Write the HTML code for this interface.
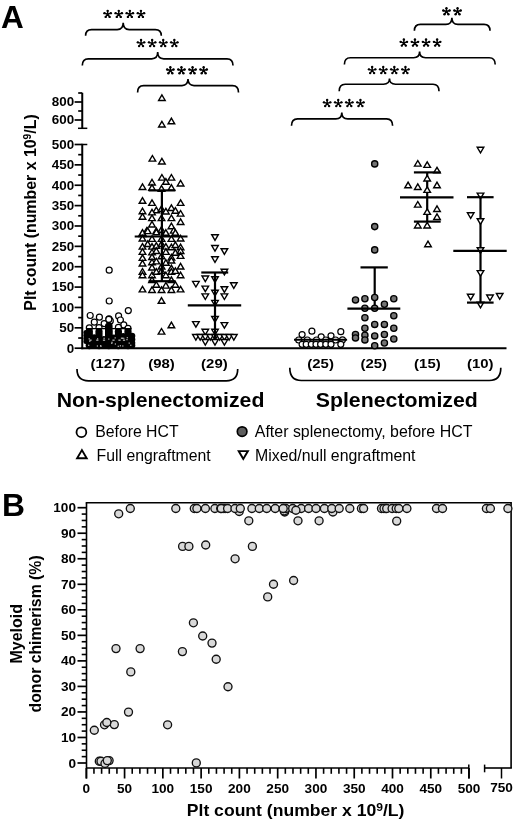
<!DOCTYPE html><html><head><meta charset="utf-8"><style>html,body{margin:0;padding:0;background:#fff;}svg{display:block;filter:grayscale(1);}text{font-family:"Liberation Sans", sans-serif;}</style></head><body>
<svg width="520" height="825" viewBox="0 0 520 825">
<rect width="520" height="825" fill="#fff"/>
<text x="1.0" y="27.7" font-size="31.5" font-weight="bold" text-anchor="start" >A</text>
<text x="2.0" y="515.5" font-size="31.8" font-weight="bold" text-anchor="start" >B</text>
<path d="M85.6 35.7Q85.6 29.6 91.6 29.6L117.2 29.6Q123.2 29.6 123.2 22.8Q123.2 29.6 129.2 29.6L155.3 29.6Q161.3 29.6 161.3 35.7" stroke="#000" stroke-width="1.65" fill="none"/>
<path d="M107.65 14.20L107.65 10.85M107.65 14.20L104.46 13.16M107.65 14.20L105.68 16.91M107.65 14.20L109.62 16.91M107.65 14.20L110.84 13.16" stroke="#000" stroke-width="1.45" stroke-linecap="round" fill="none"/><circle cx="107.65" cy="10.85" r="1.2"/><circle cx="104.46" cy="13.16" r="1.2"/><circle cx="105.68" cy="16.91" r="1.2"/><circle cx="109.62" cy="16.91" r="1.2"/><circle cx="110.84" cy="13.16" r="1.2"/><path d="M118.75 14.20L118.75 10.85M118.75 14.20L115.56 13.16M118.75 14.20L116.78 16.91M118.75 14.20L120.72 16.91M118.75 14.20L121.94 13.16" stroke="#000" stroke-width="1.45" stroke-linecap="round" fill="none"/><circle cx="118.75" cy="10.85" r="1.2"/><circle cx="115.56" cy="13.16" r="1.2"/><circle cx="116.78" cy="16.91" r="1.2"/><circle cx="120.72" cy="16.91" r="1.2"/><circle cx="121.94" cy="13.16" r="1.2"/><path d="M129.85 14.20L129.85 10.85M129.85 14.20L126.66 13.16M129.85 14.20L127.88 16.91M129.85 14.20L131.82 16.91M129.85 14.20L133.04 13.16" stroke="#000" stroke-width="1.45" stroke-linecap="round" fill="none"/><circle cx="129.85" cy="10.85" r="1.2"/><circle cx="126.66" cy="13.16" r="1.2"/><circle cx="127.88" cy="16.91" r="1.2"/><circle cx="131.82" cy="16.91" r="1.2"/><circle cx="133.04" cy="13.16" r="1.2"/><path d="M140.95 14.20L140.95 10.85M140.95 14.20L137.76 13.16M140.95 14.20L138.98 16.91M140.95 14.20L142.92 16.91M140.95 14.20L144.14 13.16" stroke="#000" stroke-width="1.45" stroke-linecap="round" fill="none"/><circle cx="140.95" cy="10.85" r="1.2"/><circle cx="137.76" cy="13.16" r="1.2"/><circle cx="138.98" cy="16.91" r="1.2"/><circle cx="142.92" cy="16.91" r="1.2"/><circle cx="144.14" cy="13.16" r="1.2"/>
<path d="M82.3 65.6Q82.3 58.8 88.3 58.8L151.7 58.8Q157.7 58.8 157.7 52.1Q157.7 58.8 163.7 58.8L227.0 58.8Q233.0 58.8 233.0 65.6" stroke="#000" stroke-width="1.65" fill="none"/>
<path d="M141.05 43.40L141.05 40.05M141.05 43.40L137.86 42.36M141.05 43.40L139.08 46.11M141.05 43.40L143.02 46.11M141.05 43.40L144.24 42.36" stroke="#000" stroke-width="1.45" stroke-linecap="round" fill="none"/><circle cx="141.05" cy="40.05" r="1.2"/><circle cx="137.86" cy="42.36" r="1.2"/><circle cx="139.08" cy="46.11" r="1.2"/><circle cx="143.02" cy="46.11" r="1.2"/><circle cx="144.24" cy="42.36" r="1.2"/><path d="M152.15 43.40L152.15 40.05M152.15 43.40L148.96 42.36M152.15 43.40L150.18 46.11M152.15 43.40L154.12 46.11M152.15 43.40L155.34 42.36" stroke="#000" stroke-width="1.45" stroke-linecap="round" fill="none"/><circle cx="152.15" cy="40.05" r="1.2"/><circle cx="148.96" cy="42.36" r="1.2"/><circle cx="150.18" cy="46.11" r="1.2"/><circle cx="154.12" cy="46.11" r="1.2"/><circle cx="155.34" cy="42.36" r="1.2"/><path d="M163.25 43.40L163.25 40.05M163.25 43.40L160.06 42.36M163.25 43.40L161.28 46.11M163.25 43.40L165.22 46.11M163.25 43.40L166.44 42.36" stroke="#000" stroke-width="1.45" stroke-linecap="round" fill="none"/><circle cx="163.25" cy="40.05" r="1.2"/><circle cx="160.06" cy="42.36" r="1.2"/><circle cx="161.28" cy="46.11" r="1.2"/><circle cx="165.22" cy="46.11" r="1.2"/><circle cx="166.44" cy="42.36" r="1.2"/><path d="M174.35 43.40L174.35 40.05M174.35 43.40L171.16 42.36M174.35 43.40L172.38 46.11M174.35 43.40L176.32 46.11M174.35 43.40L177.54 42.36" stroke="#000" stroke-width="1.45" stroke-linecap="round" fill="none"/><circle cx="174.35" cy="40.05" r="1.2"/><circle cx="171.16" cy="42.36" r="1.2"/><circle cx="172.38" cy="46.11" r="1.2"/><circle cx="176.32" cy="46.11" r="1.2"/><circle cx="177.54" cy="42.36" r="1.2"/>
<path d="M137.6 92.4Q137.6 85.6 143.6 85.6L182.0 85.6Q188.0 85.6 188.0 79.1Q188.0 85.6 194.0 85.6L232.5 85.6Q238.5 85.6 238.5 92.4" stroke="#000" stroke-width="1.65" fill="none"/>
<path d="M170.35 70.50L170.35 67.15M170.35 70.50L167.16 69.46M170.35 70.50L168.38 73.21M170.35 70.50L172.32 73.21M170.35 70.50L173.54 69.46" stroke="#000" stroke-width="1.45" stroke-linecap="round" fill="none"/><circle cx="170.35" cy="67.15" r="1.2"/><circle cx="167.16" cy="69.46" r="1.2"/><circle cx="168.38" cy="73.21" r="1.2"/><circle cx="172.32" cy="73.21" r="1.2"/><circle cx="173.54" cy="69.46" r="1.2"/><path d="M181.45 70.50L181.45 67.15M181.45 70.50L178.26 69.46M181.45 70.50L179.48 73.21M181.45 70.50L183.42 73.21M181.45 70.50L184.64 69.46" stroke="#000" stroke-width="1.45" stroke-linecap="round" fill="none"/><circle cx="181.45" cy="67.15" r="1.2"/><circle cx="178.26" cy="69.46" r="1.2"/><circle cx="179.48" cy="73.21" r="1.2"/><circle cx="183.42" cy="73.21" r="1.2"/><circle cx="184.64" cy="69.46" r="1.2"/><path d="M192.55 70.50L192.55 67.15M192.55 70.50L189.36 69.46M192.55 70.50L190.58 73.21M192.55 70.50L194.52 73.21M192.55 70.50L195.74 69.46" stroke="#000" stroke-width="1.45" stroke-linecap="round" fill="none"/><circle cx="192.55" cy="67.15" r="1.2"/><circle cx="189.36" cy="69.46" r="1.2"/><circle cx="190.58" cy="73.21" r="1.2"/><circle cx="194.52" cy="73.21" r="1.2"/><circle cx="195.74" cy="69.46" r="1.2"/><path d="M203.65 70.50L203.65 67.15M203.65 70.50L200.46 69.46M203.65 70.50L201.68 73.21M203.65 70.50L205.62 73.21M203.65 70.50L206.84 69.46" stroke="#000" stroke-width="1.45" stroke-linecap="round" fill="none"/><circle cx="203.65" cy="67.15" r="1.2"/><circle cx="200.46" cy="69.46" r="1.2"/><circle cx="201.68" cy="73.21" r="1.2"/><circle cx="205.62" cy="73.21" r="1.2"/><circle cx="206.84" cy="69.46" r="1.2"/>
<path d="M414.4 30.8Q414.4 24.4 420.4 24.4L445.9 24.4Q451.9 24.4 451.9 17.7Q451.9 24.4 457.9 24.4L484.0 24.4Q490.0 24.4 490.0 30.8" stroke="#000" stroke-width="1.65" fill="none"/>
<path d="M446.45 11.50L446.45 8.15M446.45 11.50L443.26 10.46M446.45 11.50L444.48 14.21M446.45 11.50L448.42 14.21M446.45 11.50L449.64 10.46" stroke="#000" stroke-width="1.45" stroke-linecap="round" fill="none"/><circle cx="446.45" cy="8.15" r="1.2"/><circle cx="443.26" cy="10.46" r="1.2"/><circle cx="444.48" cy="14.21" r="1.2"/><circle cx="448.42" cy="14.21" r="1.2"/><circle cx="449.64" cy="10.46" r="1.2"/><path d="M457.55 11.50L457.55 8.15M457.55 11.50L454.36 10.46M457.55 11.50L455.58 14.21M457.55 11.50L459.52 14.21M457.55 11.50L460.74 10.46" stroke="#000" stroke-width="1.45" stroke-linecap="round" fill="none"/><circle cx="457.55" cy="8.15" r="1.2"/><circle cx="454.36" cy="10.46" r="1.2"/><circle cx="455.58" cy="14.21" r="1.2"/><circle cx="459.52" cy="14.21" r="1.2"/><circle cx="460.74" cy="10.46" r="1.2"/>
<path d="M344.4 64.5Q344.4 57.7 350.4 57.7L413.6 57.7Q419.6 57.7 419.6 51.5Q419.6 57.7 425.6 57.7L489.2 57.7Q495.2 57.7 495.2 64.5" stroke="#000" stroke-width="1.65" fill="none"/>
<path d="M403.85 42.90L403.85 39.55M403.85 42.90L400.66 41.86M403.85 42.90L401.88 45.61M403.85 42.90L405.82 45.61M403.85 42.90L407.04 41.86" stroke="#000" stroke-width="1.45" stroke-linecap="round" fill="none"/><circle cx="403.85" cy="39.55" r="1.2"/><circle cx="400.66" cy="41.86" r="1.2"/><circle cx="401.88" cy="45.61" r="1.2"/><circle cx="405.82" cy="45.61" r="1.2"/><circle cx="407.04" cy="41.86" r="1.2"/><path d="M414.95 42.90L414.95 39.55M414.95 42.90L411.76 41.86M414.95 42.90L412.98 45.61M414.95 42.90L416.92 45.61M414.95 42.90L418.14 41.86" stroke="#000" stroke-width="1.45" stroke-linecap="round" fill="none"/><circle cx="414.95" cy="39.55" r="1.2"/><circle cx="411.76" cy="41.86" r="1.2"/><circle cx="412.98" cy="45.61" r="1.2"/><circle cx="416.92" cy="45.61" r="1.2"/><circle cx="418.14" cy="41.86" r="1.2"/><path d="M426.05 42.90L426.05 39.55M426.05 42.90L422.86 41.86M426.05 42.90L424.08 45.61M426.05 42.90L428.02 45.61M426.05 42.90L429.24 41.86" stroke="#000" stroke-width="1.45" stroke-linecap="round" fill="none"/><circle cx="426.05" cy="39.55" r="1.2"/><circle cx="422.86" cy="41.86" r="1.2"/><circle cx="424.08" cy="45.61" r="1.2"/><circle cx="428.02" cy="45.61" r="1.2"/><circle cx="429.24" cy="41.86" r="1.2"/><path d="M437.15 42.90L437.15 39.55M437.15 42.90L433.96 41.86M437.15 42.90L435.18 45.61M437.15 42.90L439.12 45.61M437.15 42.90L440.34 41.86" stroke="#000" stroke-width="1.45" stroke-linecap="round" fill="none"/><circle cx="437.15" cy="39.55" r="1.2"/><circle cx="433.96" cy="41.86" r="1.2"/><circle cx="435.18" cy="45.61" r="1.2"/><circle cx="439.12" cy="45.61" r="1.2"/><circle cx="440.34" cy="41.86" r="1.2"/>
<path d="M339.2 91.2Q339.2 84.2 345.2 84.2L383.5 84.2Q389.5 84.2 389.5 78.5Q389.5 84.2 395.5 84.2L433.0 84.2Q439.0 84.2 439.0 91.2" stroke="#000" stroke-width="1.65" fill="none"/>
<path d="M372.15 70.40L372.15 67.05M372.15 70.40L368.96 69.36M372.15 70.40L370.18 73.11M372.15 70.40L374.12 73.11M372.15 70.40L375.34 69.36" stroke="#000" stroke-width="1.45" stroke-linecap="round" fill="none"/><circle cx="372.15" cy="67.05" r="1.2"/><circle cx="368.96" cy="69.36" r="1.2"/><circle cx="370.18" cy="73.11" r="1.2"/><circle cx="374.12" cy="73.11" r="1.2"/><circle cx="375.34" cy="69.36" r="1.2"/><path d="M383.25 70.40L383.25 67.05M383.25 70.40L380.06 69.36M383.25 70.40L381.28 73.11M383.25 70.40L385.22 73.11M383.25 70.40L386.44 69.36" stroke="#000" stroke-width="1.45" stroke-linecap="round" fill="none"/><circle cx="383.25" cy="67.05" r="1.2"/><circle cx="380.06" cy="69.36" r="1.2"/><circle cx="381.28" cy="73.11" r="1.2"/><circle cx="385.22" cy="73.11" r="1.2"/><circle cx="386.44" cy="69.36" r="1.2"/><path d="M394.35 70.40L394.35 67.05M394.35 70.40L391.16 69.36M394.35 70.40L392.38 73.11M394.35 70.40L396.32 73.11M394.35 70.40L397.54 69.36" stroke="#000" stroke-width="1.45" stroke-linecap="round" fill="none"/><circle cx="394.35" cy="67.05" r="1.2"/><circle cx="391.16" cy="69.36" r="1.2"/><circle cx="392.38" cy="73.11" r="1.2"/><circle cx="396.32" cy="73.11" r="1.2"/><circle cx="397.54" cy="69.36" r="1.2"/><path d="M405.45 70.40L405.45 67.05M405.45 70.40L402.26 69.36M405.45 70.40L403.48 73.11M405.45 70.40L407.42 73.11M405.45 70.40L408.64 69.36" stroke="#000" stroke-width="1.45" stroke-linecap="round" fill="none"/><circle cx="405.45" cy="67.05" r="1.2"/><circle cx="402.26" cy="69.36" r="1.2"/><circle cx="403.48" cy="73.11" r="1.2"/><circle cx="407.42" cy="73.11" r="1.2"/><circle cx="408.64" cy="69.36" r="1.2"/>
<path d="M291.5 125.8Q291.5 118.8 297.5 118.8L335.8 118.8Q341.8 118.8 341.8 112.4Q341.8 118.8 347.8 118.8L386.6 118.8Q392.6 118.8 392.6 125.8" stroke="#000" stroke-width="1.65" fill="none"/>
<path d="M327.15 103.40L327.15 100.05M327.15 103.40L323.96 102.36M327.15 103.40L325.18 106.11M327.15 103.40L329.12 106.11M327.15 103.40L330.34 102.36" stroke="#000" stroke-width="1.45" stroke-linecap="round" fill="none"/><circle cx="327.15" cy="100.05" r="1.2"/><circle cx="323.96" cy="102.36" r="1.2"/><circle cx="325.18" cy="106.11" r="1.2"/><circle cx="329.12" cy="106.11" r="1.2"/><circle cx="330.34" cy="102.36" r="1.2"/><path d="M338.25 103.40L338.25 100.05M338.25 103.40L335.06 102.36M338.25 103.40L336.28 106.11M338.25 103.40L340.22 106.11M338.25 103.40L341.44 102.36" stroke="#000" stroke-width="1.45" stroke-linecap="round" fill="none"/><circle cx="338.25" cy="100.05" r="1.2"/><circle cx="335.06" cy="102.36" r="1.2"/><circle cx="336.28" cy="106.11" r="1.2"/><circle cx="340.22" cy="106.11" r="1.2"/><circle cx="341.44" cy="102.36" r="1.2"/><path d="M349.35 103.40L349.35 100.05M349.35 103.40L346.16 102.36M349.35 103.40L347.38 106.11M349.35 103.40L351.32 106.11M349.35 103.40L352.54 102.36" stroke="#000" stroke-width="1.45" stroke-linecap="round" fill="none"/><circle cx="349.35" cy="100.05" r="1.2"/><circle cx="346.16" cy="102.36" r="1.2"/><circle cx="347.38" cy="106.11" r="1.2"/><circle cx="351.32" cy="106.11" r="1.2"/><circle cx="352.54" cy="102.36" r="1.2"/><path d="M360.45 103.40L360.45 100.05M360.45 103.40L357.26 102.36M360.45 103.40L358.48 106.11M360.45 103.40L362.42 106.11M360.45 103.40L363.64 102.36" stroke="#000" stroke-width="1.45" stroke-linecap="round" fill="none"/><circle cx="360.45" cy="100.05" r="1.2"/><circle cx="357.26" cy="102.36" r="1.2"/><circle cx="358.48" cy="106.11" r="1.2"/><circle cx="362.42" cy="106.11" r="1.2"/><circle cx="363.64" cy="102.36" r="1.2"/>
<line x1="82.25" y1="143.8" x2="82.25" y2="349.2" stroke="#000" stroke-width="2"/>
<line x1="82.25" y1="92.8" x2="82.25" y2="128.3" stroke="#000" stroke-width="2"/>
<line x1="81.25" y1="348.2" x2="506.5" y2="348.2" stroke="#000" stroke-width="2"/>
<line x1="74.6" y1="348.2" x2="82.25" y2="348.2" stroke="#000" stroke-width="1.7"/>
<line x1="78.2" y1="338.015" x2="82.25" y2="338.015" stroke="#000" stroke-width="1.7"/>
<line x1="74.6" y1="327.83" x2="82.25" y2="327.83" stroke="#000" stroke-width="1.7"/>
<line x1="78.2" y1="317.645" x2="82.25" y2="317.645" stroke="#000" stroke-width="1.7"/>
<line x1="74.6" y1="307.46" x2="82.25" y2="307.46" stroke="#000" stroke-width="1.7"/>
<line x1="78.2" y1="297.275" x2="82.25" y2="297.275" stroke="#000" stroke-width="1.7"/>
<line x1="74.6" y1="287.09" x2="82.25" y2="287.09" stroke="#000" stroke-width="1.7"/>
<line x1="78.2" y1="276.905" x2="82.25" y2="276.905" stroke="#000" stroke-width="1.7"/>
<line x1="74.6" y1="266.72" x2="82.25" y2="266.72" stroke="#000" stroke-width="1.7"/>
<line x1="78.2" y1="256.53499999999997" x2="82.25" y2="256.53499999999997" stroke="#000" stroke-width="1.7"/>
<line x1="74.6" y1="246.35" x2="82.25" y2="246.35" stroke="#000" stroke-width="1.7"/>
<line x1="78.2" y1="236.165" x2="82.25" y2="236.165" stroke="#000" stroke-width="1.7"/>
<line x1="74.6" y1="225.98" x2="82.25" y2="225.98" stroke="#000" stroke-width="1.7"/>
<line x1="78.2" y1="215.795" x2="82.25" y2="215.795" stroke="#000" stroke-width="1.7"/>
<line x1="74.6" y1="205.60999999999999" x2="82.25" y2="205.60999999999999" stroke="#000" stroke-width="1.7"/>
<line x1="78.2" y1="195.42499999999998" x2="82.25" y2="195.42499999999998" stroke="#000" stroke-width="1.7"/>
<line x1="74.6" y1="185.24" x2="82.25" y2="185.24" stroke="#000" stroke-width="1.7"/>
<line x1="78.2" y1="175.055" x2="82.25" y2="175.055" stroke="#000" stroke-width="1.7"/>
<line x1="74.6" y1="164.87" x2="82.25" y2="164.87" stroke="#000" stroke-width="1.7"/>
<line x1="78.2" y1="154.685" x2="82.25" y2="154.685" stroke="#000" stroke-width="1.7"/>
<line x1="74.6" y1="144.5" x2="82.25" y2="144.5" stroke="#000" stroke-width="1.7"/>
<line x1="82.25" y1="144.5" x2="87.3" y2="144.5" stroke="#000" stroke-width="1.5"/>
<line x1="74.6" y1="120.0" x2="82.25" y2="120.0" stroke="#000" stroke-width="1.7"/>
<line x1="78.2" y1="111.0" x2="82.25" y2="111.0" stroke="#000" stroke-width="1.7"/>
<line x1="74.6" y1="102.0" x2="82.25" y2="102.0" stroke="#000" stroke-width="1.7"/>
<line x1="78.2" y1="93.0" x2="82.25" y2="93.0" stroke="#000" stroke-width="1.7"/>
<line x1="78.0" y1="128.3" x2="87.3" y2="128.3" stroke="#000" stroke-width="1.5"/>
<text x="74.2" y="352.5" font-size="13.4" font-weight="bold" text-anchor="end" >0</text>
<text x="74.2" y="332.13" font-size="13.4" font-weight="bold" text-anchor="end" >50</text>
<text x="74.2" y="311.76" font-size="13.4" font-weight="bold" text-anchor="end" >100</text>
<text x="74.2" y="291.39" font-size="13.4" font-weight="bold" text-anchor="end" >150</text>
<text x="74.2" y="271.02000000000004" font-size="13.4" font-weight="bold" text-anchor="end" >200</text>
<text x="74.2" y="250.65" font-size="13.4" font-weight="bold" text-anchor="end" >250</text>
<text x="74.2" y="230.28" font-size="13.4" font-weight="bold" text-anchor="end" >300</text>
<text x="74.2" y="209.91" font-size="13.4" font-weight="bold" text-anchor="end" >350</text>
<text x="74.2" y="189.54000000000002" font-size="13.4" font-weight="bold" text-anchor="end" >400</text>
<text x="74.2" y="169.17000000000002" font-size="13.4" font-weight="bold" text-anchor="end" >450</text>
<text x="74.2" y="148.8" font-size="13.4" font-weight="bold" text-anchor="end" >500</text>
<text x="74.2" y="124.3" font-size="13.4" font-weight="bold" text-anchor="end" >600</text>
<text x="74.2" y="106.3" font-size="13.4" font-weight="bold" text-anchor="end" >800</text>
<text x="0" y="0" font-size="15.9" font-weight="bold" text-anchor="middle" transform="translate(35.7 212.5) rotate(-90)">Plt count (number x 10<tspan font-size="10.3" dy="-4.6">9</tspan><tspan dy="4.6">/L)</tspan></text>
<text transform="translate(107.9 368.4) scale(1.115 1)" font-size="13.4" font-weight="bold" text-anchor="middle">(127)</text>
<text transform="translate(161.5 368.4) scale(1.115 1)" font-size="13.4" font-weight="bold" text-anchor="middle">(98)</text>
<text transform="translate(214.4 368.4) scale(1.115 1)" font-size="13.4" font-weight="bold" text-anchor="middle">(29)</text>
<text transform="translate(320.6 368.4) scale(1.115 1)" font-size="13.4" font-weight="bold" text-anchor="middle">(25)</text>
<text transform="translate(373.7 368.4) scale(1.115 1)" font-size="13.4" font-weight="bold" text-anchor="middle">(25)</text>
<text transform="translate(427.4 368.4) scale(1.115 1)" font-size="13.4" font-weight="bold" text-anchor="middle">(15)</text>
<text transform="translate(480.3 368.4) scale(1.115 1)" font-size="13.4" font-weight="bold" text-anchor="middle">(10)</text>
<path d="M77.0 369.0Q77.0 380.8 88.5 380.8L226.2 380.8Q237.7 380.8 237.7 369.0" stroke="#000" stroke-width="1.7" fill="none"/>
<path d="M289.8 367.8Q289.8 380.5 301.3 380.5L489.3 380.5Q500.8 380.5 500.8 367.8" stroke="#000" stroke-width="1.7" fill="none"/>
<text transform="translate(160.5 406.5) scale(1.022 1)" font-size="20.8" font-weight="bold" text-anchor="middle">Non-splenectomized</text>
<text transform="translate(396.8 407.0) scale(1.024 1)" font-size="20.8" font-weight="bold" text-anchor="middle">Splenectomized</text>
<circle cx="81.4" cy="432.2" r="4.9" fill="#fff" stroke="#000" stroke-width="1.8"/>
<text x="95.2" y="436.6" font-size="15.8" font-weight="normal" text-anchor="start" >Before HCT</text>
<polygon points="81.90,450.11 77.10,458.27 86.70,458.27" fill="#fff" stroke="#000" stroke-width="1.9" stroke-linejoin="miter"/>
<text x="96.6" y="460.6" font-size="15.8" font-weight="normal" text-anchor="start" >Full engraftment</text>
<circle cx="242.1" cy="431.6" r="4.8" fill="#5e5e5e" stroke="#000" stroke-width="1.7"/>
<text transform="translate(254.8 436.6) scale(1.01 1)" font-size="15.8" font-weight="normal" text-anchor="start">After splenectomy, before HCT</text>
<polygon points="243.30,458.90 238.70,451.08 247.90,451.08" fill="#fff" stroke="#000" stroke-width="1.9" stroke-linejoin="miter"/>
<text transform="translate(255.0 460.6) scale(1.005 1)" font-size="15.8" font-weight="normal" text-anchor="start">Mixed/null engraftment</text>
<circle cx="109.2" cy="270.2" r="3.0" fill="#fff" stroke="#000" stroke-width="1.2"/>
<circle cx="109.2" cy="301.0" r="3.0" fill="#fff" stroke="#000" stroke-width="1.2"/>
<circle cx="128.3" cy="310.6" r="3.0" fill="#fff" stroke="#000" stroke-width="1.2"/>
<circle cx="90.2" cy="315.5" r="3.0" fill="#fff" stroke="#000" stroke-width="1.2"/>
<circle cx="99.4" cy="317.2" r="3.0" fill="#fff" stroke="#000" stroke-width="1.2"/>
<circle cx="94.3" cy="322.2" r="3.0" fill="#fff" stroke="#000" stroke-width="1.2"/>
<circle cx="109.0" cy="318.8" r="3.0" fill="#fff" stroke="#000" stroke-width="1.2"/>
<circle cx="118.6" cy="315.9" r="3.0" fill="#fff" stroke="#000" stroke-width="1.2"/>
<circle cx="120.4" cy="320.0" r="3.0" fill="#fff" stroke="#000" stroke-width="1.2"/>
<circle cx="104.2" cy="323.6" r="3.0" fill="#fff" stroke="#000" stroke-width="1.2"/>
<circle cx="123.8" cy="324.9" r="3.0" fill="#fff" stroke="#000" stroke-width="1.2"/>
<circle cx="110.3" cy="320.9" r="3.0" fill="#fff" stroke="#000" stroke-width="1.2"/>
<circle cx="89.3" cy="327.9" r="3.0" fill="#fff" stroke="#000" stroke-width="1.2"/>
<circle cx="99.0" cy="327.6" r="3.0" fill="#fff" stroke="#000" stroke-width="1.2"/>
<circle cx="118.4" cy="327.4" r="3.0" fill="#fff" stroke="#000" stroke-width="1.2"/>
<circle cx="128.0" cy="328.4" r="3.0" fill="#fff" stroke="#000" stroke-width="1.2"/>
<circle cx="89.3" cy="331.8" r="3.65" fill="#000"/>
<circle cx="89.3" cy="335.0" r="3.65" fill="#000"/>
<circle cx="89.3" cy="338.5" r="3.65" fill="#000"/>
<circle cx="89.3" cy="342.0" r="3.65" fill="#000"/>
<circle cx="89.3" cy="345.5" r="3.65" fill="#000"/>
<circle cx="99.0" cy="331.8" r="3.65" fill="#000"/>
<circle cx="99.0" cy="335.0" r="3.65" fill="#000"/>
<circle cx="99.0" cy="338.5" r="3.65" fill="#000"/>
<circle cx="99.0" cy="342.0" r="3.65" fill="#000"/>
<circle cx="99.0" cy="345.5" r="3.65" fill="#000"/>
<circle cx="108.8" cy="331.8" r="3.65" fill="#000"/>
<circle cx="108.8" cy="335.0" r="3.65" fill="#000"/>
<circle cx="108.8" cy="338.5" r="3.65" fill="#000"/>
<circle cx="108.8" cy="342.0" r="3.65" fill="#000"/>
<circle cx="108.8" cy="345.5" r="3.65" fill="#000"/>
<circle cx="118.4" cy="331.8" r="3.65" fill="#000"/>
<circle cx="118.4" cy="335.0" r="3.65" fill="#000"/>
<circle cx="118.4" cy="338.5" r="3.65" fill="#000"/>
<circle cx="118.4" cy="342.0" r="3.65" fill="#000"/>
<circle cx="118.4" cy="345.5" r="3.65" fill="#000"/>
<circle cx="128.0" cy="331.8" r="3.65" fill="#000"/>
<circle cx="128.0" cy="335.0" r="3.65" fill="#000"/>
<circle cx="128.0" cy="338.5" r="3.65" fill="#000"/>
<circle cx="128.0" cy="342.0" r="3.65" fill="#000"/>
<circle cx="128.0" cy="345.5" r="3.65" fill="#000"/>
<circle cx="94.2" cy="342.0" r="3.5" fill="#000"/>
<circle cx="94.2" cy="345.5" r="3.5" fill="#000"/>
<circle cx="103.9" cy="342.0" r="3.5" fill="#000"/>
<circle cx="103.9" cy="345.5" r="3.5" fill="#000"/>
<circle cx="113.6" cy="342.0" r="3.5" fill="#000"/>
<circle cx="113.6" cy="345.5" r="3.5" fill="#000"/>
<circle cx="123.2" cy="342.0" r="3.5" fill="#000"/>
<circle cx="123.2" cy="345.5" r="3.5" fill="#000"/>
<circle cx="94.2" cy="336.8" r="2.6" fill="#000"/>
<circle cx="103.9" cy="338.6" r="2.6" fill="#000"/>
<circle cx="113.6" cy="337.2" r="2.6" fill="#000"/>
<circle cx="123.2" cy="335.6" r="2.6" fill="#000"/>
<circle cx="132.0" cy="336.0" r="3.3" fill="#000"/>
<circle cx="132.0" cy="339.5" r="3.3" fill="#000"/>
<circle cx="132.0" cy="343.0" r="3.3" fill="#000"/>
<circle cx="132.0" cy="345.5" r="3.3" fill="#000"/>
<circle cx="85.9" cy="332.5" r="2.5" fill="#000"/>
<circle cx="85.9" cy="335.5" r="2.5" fill="#000"/>
<circle cx="85.9" cy="338.5" r="2.5" fill="#000"/>
<circle cx="85.9" cy="341.5" r="2.5" fill="#000"/>
<circle cx="108.8" cy="319.4" r="3.0" fill="#fff" stroke="#000" stroke-width="1.2"/>
<path d="M105.0 346V326.0Q105.0 322.8 108.8 322.8Q112.6 322.8 112.6 326.0V346Z" fill="#000"/>
<line x1="86.0" y1="328.6" x2="131.5" y2="328.6" stroke="#000" stroke-width="1.3"/>
<rect x="96.2" y="339.6" width="2.2" height="1.1" fill="#fff" opacity="0.85"/>
<rect x="102.9" y="339.6" width="2.2" height="1.1" fill="#fff" opacity="0.85"/>
<rect x="112.4" y="339.6" width="2.2" height="1.1" fill="#fff" opacity="0.85"/>
<rect x="122.9" y="339.6" width="2.2" height="1.1" fill="#fff" opacity="0.85"/>
<rect x="89.4" y="339.6" width="2.2" height="1.1" fill="#fff" opacity="0.85"/>
<rect x="118.4" y="339.6" width="2.2" height="1.1" fill="#fff" opacity="0.85"/>
<rect x="114.8" y="343.4" width="1.2" height="1.2" fill="#fff" opacity="0.75"/>
<rect x="122.2" y="345.4" width="1.2" height="1.2" fill="#fff" opacity="0.75"/>
<rect x="119.8" y="345.2" width="1.2" height="1.2" fill="#fff" opacity="0.75"/>
<rect x="89.2" y="340.7" width="1.2" height="1.2" fill="#fff" opacity="0.75"/>
<rect x="128.6" y="342.5" width="1.2" height="1.2" fill="#fff" opacity="0.75"/>
<rect x="126.7" y="337.1" width="1.2" height="1.2" fill="#fff" opacity="0.75"/>
<rect x="108.2" y="338.5" width="1.2" height="1.2" fill="#fff" opacity="0.75"/>
<rect x="111.4" y="341.7" width="1.2" height="1.2" fill="#fff" opacity="0.75"/>
<rect x="88.6" y="338.2" width="1.2" height="1.2" fill="#fff" opacity="0.75"/>
<rect x="100.0" y="345.2" width="1.2" height="1.2" fill="#fff" opacity="0.75"/>
<rect x="120.9" y="337.6" width="1.2" height="1.2" fill="#fff" opacity="0.75"/>
<rect x="122.3" y="337.4" width="1.2" height="1.2" fill="#fff" opacity="0.75"/>
<rect x="114.6" y="337.3" width="1.2" height="1.2" fill="#fff" opacity="0.75"/>
<rect x="88.1" y="344.7" width="1.2" height="1.2" fill="#fff" opacity="0.75"/>
<rect x="97.0" y="338.2" width="1.2" height="1.2" fill="#fff" opacity="0.75"/>
<rect x="130.2" y="344.7" width="1.2" height="1.2" fill="#fff" opacity="0.75"/>
<rect x="100.4" y="345.6" width="1.2" height="1.2" fill="#fff" opacity="0.75"/>
<rect x="111.2" y="342.8" width="1.2" height="1.2" fill="#fff" opacity="0.75"/>
<rect x="96.8" y="345.4" width="1.2" height="1.2" fill="#fff" opacity="0.75"/>
<rect x="117.7" y="345.7" width="1.2" height="1.2" fill="#fff" opacity="0.75"/>
<rect x="126.4" y="339.0" width="1.2" height="1.2" fill="#fff" opacity="0.75"/>
<rect x="103.5" y="337.7" width="1.2" height="1.2" fill="#fff" opacity="0.75"/>
<polygon points="161.90,94.91 158.60,100.52 165.20,100.52" fill="#fff" stroke="#000" stroke-width="1.4" stroke-linejoin="miter"/>
<polygon points="161.90,121.41 158.60,127.02 165.20,127.02" fill="#fff" stroke="#000" stroke-width="1.4" stroke-linejoin="miter"/>
<polygon points="171.40,118.21 168.10,123.82 174.70,123.82" fill="#fff" stroke="#000" stroke-width="1.4" stroke-linejoin="miter"/>
<polygon points="152.40,155.51 149.10,161.12 155.70,161.12" fill="#fff" stroke="#000" stroke-width="1.4" stroke-linejoin="miter"/>
<polygon points="161.90,158.41 158.60,164.02 165.20,164.02" fill="#fff" stroke="#000" stroke-width="1.4" stroke-linejoin="miter"/>
<polygon points="161.90,174.51 158.60,180.12 165.20,180.12" fill="#fff" stroke="#000" stroke-width="1.4" stroke-linejoin="miter"/>
<polygon points="171.40,174.51 168.10,180.12 174.70,180.12" fill="#fff" stroke="#000" stroke-width="1.4" stroke-linejoin="miter"/>
<polygon points="152.00,179.41 148.70,185.02 155.30,185.02" fill="#fff" stroke="#000" stroke-width="1.4" stroke-linejoin="miter"/>
<polygon points="165.90,178.71 162.60,184.32 169.20,184.32" fill="#fff" stroke="#000" stroke-width="1.4" stroke-linejoin="miter"/>
<polygon points="180.60,180.41 177.30,186.02 183.90,186.02" fill="#fff" stroke="#000" stroke-width="1.4" stroke-linejoin="miter"/>
<polygon points="142.50,183.91 139.20,189.52 145.80,189.52" fill="#fff" stroke="#000" stroke-width="1.4" stroke-linejoin="miter"/>
<polygon points="152.00,184.61 148.70,190.22 155.30,190.22" fill="#fff" stroke="#000" stroke-width="1.4" stroke-linejoin="miter"/>
<polygon points="161.50,185.61 158.20,191.22 164.80,191.22" fill="#fff" stroke="#000" stroke-width="1.4" stroke-linejoin="miter"/>
<polygon points="171.40,184.61 168.10,190.22 174.70,190.22" fill="#fff" stroke="#000" stroke-width="1.4" stroke-linejoin="miter"/>
<polygon points="142.50,197.71 139.20,203.32 145.80,203.32" fill="#fff" stroke="#000" stroke-width="1.4" stroke-linejoin="miter"/>
<polygon points="152.00,199.81 148.70,205.42 155.30,205.42" fill="#fff" stroke="#000" stroke-width="1.4" stroke-linejoin="miter"/>
<polygon points="180.60,199.81 177.30,205.42 183.90,205.42" fill="#fff" stroke="#000" stroke-width="1.4" stroke-linejoin="miter"/>
<polygon points="156.30,207.11 153.00,212.72 159.60,212.72" fill="#fff" stroke="#000" stroke-width="1.4" stroke-linejoin="miter"/>
<polygon points="161.50,205.91 158.20,211.52 164.80,211.52" fill="#fff" stroke="#000" stroke-width="1.4" stroke-linejoin="miter"/>
<polygon points="171.40,204.91 168.10,210.52 174.70,210.52" fill="#fff" stroke="#000" stroke-width="1.4" stroke-linejoin="miter"/>
<polygon points="175.40,207.61 172.10,213.22 178.70,213.22" fill="#fff" stroke="#000" stroke-width="1.4" stroke-linejoin="miter"/>
<polygon points="142.50,208.11 139.20,213.72 145.80,213.72" fill="#fff" stroke="#000" stroke-width="1.4" stroke-linejoin="miter"/>
<polygon points="152.00,209.31 148.70,214.92 155.30,214.92" fill="#fff" stroke="#000" stroke-width="1.4" stroke-linejoin="miter"/>
<polygon points="165.90,208.41 162.60,214.02 169.20,214.02" fill="#fff" stroke="#000" stroke-width="1.4" stroke-linejoin="miter"/>
<polygon points="180.60,210.51 177.30,216.12 183.90,216.12" fill="#fff" stroke="#000" stroke-width="1.4" stroke-linejoin="miter"/>
<polygon points="142.50,213.61 139.20,219.22 145.80,219.22" fill="#fff" stroke="#000" stroke-width="1.4" stroke-linejoin="miter"/>
<polygon points="152.00,215.01 148.70,220.62 155.30,220.62" fill="#fff" stroke="#000" stroke-width="1.4" stroke-linejoin="miter"/>
<polygon points="161.50,215.01 158.20,220.62 164.80,220.62" fill="#fff" stroke="#000" stroke-width="1.4" stroke-linejoin="miter"/>
<polygon points="171.40,215.01 168.10,220.62 174.70,220.62" fill="#fff" stroke="#000" stroke-width="1.4" stroke-linejoin="miter"/>
<polygon points="180.60,218.91 177.30,224.52 183.90,224.52" fill="#fff" stroke="#000" stroke-width="1.4" stroke-linejoin="miter"/>
<polygon points="152.00,221.41 148.70,227.02 155.30,227.02" fill="#fff" stroke="#000" stroke-width="1.4" stroke-linejoin="miter"/>
<polygon points="171.40,223.11 168.10,228.72 174.70,228.72" fill="#fff" stroke="#000" stroke-width="1.4" stroke-linejoin="miter"/>
<polygon points="146.80,227.51 143.50,233.12 150.10,233.12" fill="#fff" stroke="#000" stroke-width="1.4" stroke-linejoin="miter"/>
<polygon points="156.30,227.91 153.00,233.52 159.60,233.52" fill="#fff" stroke="#000" stroke-width="1.4" stroke-linejoin="miter"/>
<polygon points="161.50,226.61 158.20,232.22 164.80,232.22" fill="#fff" stroke="#000" stroke-width="1.4" stroke-linejoin="miter"/>
<polygon points="173.70,227.51 170.40,233.12 177.00,233.12" fill="#fff" stroke="#000" stroke-width="1.4" stroke-linejoin="miter"/>
<polygon points="142.50,230.91 139.20,236.52 145.80,236.52" fill="#fff" stroke="#000" stroke-width="1.4" stroke-linejoin="miter"/>
<polygon points="142.50,229.70 139.20,235.31 145.80,235.31" fill="#fff" stroke="#000" stroke-width="1.4" stroke-linejoin="miter"/>
<polygon points="147.69,227.97 144.39,233.58 150.99,233.58" fill="#fff" stroke="#000" stroke-width="1.4" stroke-linejoin="miter"/>
<polygon points="156.34,229.18 153.04,234.79 159.64,234.79" fill="#fff" stroke="#000" stroke-width="1.4" stroke-linejoin="miter"/>
<polygon points="165.86,229.70 162.56,235.31 169.16,235.31" fill="#fff" stroke="#000" stroke-width="1.4" stroke-linejoin="miter"/>
<polygon points="175.38,229.70 172.08,235.31 178.68,235.31" fill="#fff" stroke="#000" stroke-width="1.4" stroke-linejoin="miter"/>
<polygon points="142.50,235.41 139.20,241.02 145.80,241.02" fill="#fff" stroke="#000" stroke-width="1.4" stroke-linejoin="miter"/>
<polygon points="152.02,235.76 148.72,241.37 155.32,241.37" fill="#fff" stroke="#000" stroke-width="1.4" stroke-linejoin="miter"/>
<polygon points="161.54,235.76 158.24,241.37 164.84,241.37" fill="#fff" stroke="#000" stroke-width="1.4" stroke-linejoin="miter"/>
<polygon points="171.40,235.76 168.10,241.37 174.70,241.37" fill="#fff" stroke="#000" stroke-width="1.4" stroke-linejoin="miter"/>
<polygon points="180.57,235.41 177.27,241.02 183.87,241.02" fill="#fff" stroke="#000" stroke-width="1.4" stroke-linejoin="miter"/>
<polygon points="142.50,243.55 139.20,249.16 145.80,249.16" fill="#fff" stroke="#000" stroke-width="1.4" stroke-linejoin="miter"/>
<polygon points="147.69,240.95 144.39,246.56 150.99,246.56" fill="#fff" stroke="#000" stroke-width="1.4" stroke-linejoin="miter"/>
<polygon points="152.02,243.55 148.72,249.16 155.32,249.16" fill="#fff" stroke="#000" stroke-width="1.4" stroke-linejoin="miter"/>
<polygon points="156.34,242.68 153.04,248.29 159.64,248.29" fill="#fff" stroke="#000" stroke-width="1.4" stroke-linejoin="miter"/>
<polygon points="161.54,240.95 158.24,246.56 164.84,246.56" fill="#fff" stroke="#000" stroke-width="1.4" stroke-linejoin="miter"/>
<polygon points="165.86,243.55 162.56,249.16 169.16,249.16" fill="#fff" stroke="#000" stroke-width="1.4" stroke-linejoin="miter"/>
<polygon points="171.40,244.07 168.10,249.68 174.70,249.68" fill="#fff" stroke="#000" stroke-width="1.4" stroke-linejoin="miter"/>
<polygon points="175.38,241.82 172.08,247.43 178.68,247.43" fill="#fff" stroke="#000" stroke-width="1.4" stroke-linejoin="miter"/>
<polygon points="180.57,244.07 177.27,249.68 183.87,249.68" fill="#fff" stroke="#000" stroke-width="1.4" stroke-linejoin="miter"/>
<polygon points="142.50,248.74 139.20,254.35 145.80,254.35" fill="#fff" stroke="#000" stroke-width="1.4" stroke-linejoin="miter"/>
<polygon points="152.02,249.26 148.72,254.87 155.32,254.87" fill="#fff" stroke="#000" stroke-width="1.4" stroke-linejoin="miter"/>
<polygon points="156.34,247.88 153.04,253.49 159.64,253.49" fill="#fff" stroke="#000" stroke-width="1.4" stroke-linejoin="miter"/>
<polygon points="165.86,248.74 162.56,254.35 169.16,254.35" fill="#fff" stroke="#000" stroke-width="1.4" stroke-linejoin="miter"/>
<polygon points="175.38,249.61 172.08,255.22 178.68,255.22" fill="#fff" stroke="#000" stroke-width="1.4" stroke-linejoin="miter"/>
<polygon points="180.57,247.88 177.27,253.49 183.87,253.49" fill="#fff" stroke="#000" stroke-width="1.4" stroke-linejoin="miter"/>
<polygon points="142.50,254.80 139.20,260.41 145.80,260.41" fill="#fff" stroke="#000" stroke-width="1.4" stroke-linejoin="miter"/>
<polygon points="152.02,253.93 148.72,259.54 155.32,259.54" fill="#fff" stroke="#000" stroke-width="1.4" stroke-linejoin="miter"/>
<polygon points="161.54,253.07 158.24,258.68 164.84,258.68" fill="#fff" stroke="#000" stroke-width="1.4" stroke-linejoin="miter"/>
<polygon points="171.40,254.45 168.10,260.06 174.70,260.06" fill="#fff" stroke="#000" stroke-width="1.4" stroke-linejoin="miter"/>
<polygon points="180.57,252.72 177.27,258.33 183.87,258.33" fill="#fff" stroke="#000" stroke-width="1.4" stroke-linejoin="miter"/>
<polygon points="142.50,260.34 139.20,265.95 145.80,265.95" fill="#fff" stroke="#000" stroke-width="1.4" stroke-linejoin="miter"/>
<polygon points="152.02,259.12 148.72,264.73 155.32,264.73" fill="#fff" stroke="#000" stroke-width="1.4" stroke-linejoin="miter"/>
<polygon points="156.34,258.26 153.04,263.87 159.64,263.87" fill="#fff" stroke="#000" stroke-width="1.4" stroke-linejoin="miter"/>
<polygon points="165.86,259.64 162.56,265.25 169.16,265.25" fill="#fff" stroke="#000" stroke-width="1.4" stroke-linejoin="miter"/>
<polygon points="171.40,257.39 168.10,263.00 174.70,263.00" fill="#fff" stroke="#000" stroke-width="1.4" stroke-linejoin="miter"/>
<polygon points="152.02,264.32 148.72,269.93 155.32,269.93" fill="#fff" stroke="#000" stroke-width="1.4" stroke-linejoin="miter"/>
<polygon points="161.54,263.45 158.24,269.06 164.84,269.06" fill="#fff" stroke="#000" stroke-width="1.4" stroke-linejoin="miter"/>
<polygon points="171.40,265.18 168.10,270.79 174.70,270.79" fill="#fff" stroke="#000" stroke-width="1.4" stroke-linejoin="miter"/>
<polygon points="180.57,263.45 177.27,269.06 183.87,269.06" fill="#fff" stroke="#000" stroke-width="1.4" stroke-linejoin="miter"/>
<polygon points="142.50,268.64 139.20,274.25 145.80,274.25" fill="#fff" stroke="#000" stroke-width="1.4" stroke-linejoin="miter"/>
<polygon points="142.50,272.10 139.20,277.71 145.80,277.71" fill="#fff" stroke="#000" stroke-width="1.4" stroke-linejoin="miter"/>
<polygon points="152.02,272.10 148.72,277.71 155.32,277.71" fill="#fff" stroke="#000" stroke-width="1.4" stroke-linejoin="miter"/>
<polygon points="156.34,268.64 153.04,274.25 159.64,274.25" fill="#fff" stroke="#000" stroke-width="1.4" stroke-linejoin="miter"/>
<polygon points="161.54,267.78 158.24,273.39 164.84,273.39" fill="#fff" stroke="#000" stroke-width="1.4" stroke-linejoin="miter"/>
<polygon points="165.86,272.10 162.56,277.71 169.16,277.71" fill="#fff" stroke="#000" stroke-width="1.4" stroke-linejoin="miter"/>
<polygon points="171.40,268.64 168.10,274.25 174.70,274.25" fill="#fff" stroke="#000" stroke-width="1.4" stroke-linejoin="miter"/>
<polygon points="175.38,267.78 172.08,273.39 178.68,273.39" fill="#fff" stroke="#000" stroke-width="1.4" stroke-linejoin="miter"/>
<polygon points="180.57,272.10 177.27,277.71 183.87,277.71" fill="#fff" stroke="#000" stroke-width="1.4" stroke-linejoin="miter"/>
<polygon points="152.02,276.95 148.72,282.56 155.32,282.56" fill="#fff" stroke="#000" stroke-width="1.4" stroke-linejoin="miter"/>
<polygon points="171.40,276.95 168.10,282.56 174.70,282.56" fill="#fff" stroke="#000" stroke-width="1.4" stroke-linejoin="miter"/>
<polygon points="142.50,286.30 139.20,291.91 145.80,291.91" fill="#fff" stroke="#000" stroke-width="1.4" stroke-linejoin="miter"/>
<polygon points="152.02,286.82 148.72,292.43 155.32,292.43" fill="#fff" stroke="#000" stroke-width="1.4" stroke-linejoin="miter"/>
<polygon points="156.34,281.62 153.04,287.23 159.64,287.23" fill="#fff" stroke="#000" stroke-width="1.4" stroke-linejoin="miter"/>
<polygon points="161.54,286.82 158.24,292.43 164.84,292.43" fill="#fff" stroke="#000" stroke-width="1.4" stroke-linejoin="miter"/>
<polygon points="165.86,282.49 162.56,288.10 169.16,288.10" fill="#fff" stroke="#000" stroke-width="1.4" stroke-linejoin="miter"/>
<polygon points="171.40,286.82 168.10,292.43 174.70,292.43" fill="#fff" stroke="#000" stroke-width="1.4" stroke-linejoin="miter"/>
<polygon points="175.38,281.62 172.08,287.23 178.68,287.23" fill="#fff" stroke="#000" stroke-width="1.4" stroke-linejoin="miter"/>
<polygon points="180.57,286.30 177.27,291.91 183.87,291.91" fill="#fff" stroke="#000" stroke-width="1.4" stroke-linejoin="miter"/>
<polygon points="161.50,297.71 158.20,303.32 164.80,303.32" fill="#fff" stroke="#000" stroke-width="1.4" stroke-linejoin="miter"/>
<polygon points="171.40,322.21 168.10,327.82 174.70,327.82" fill="#fff" stroke="#000" stroke-width="1.4" stroke-linejoin="miter"/>
<polygon points="161.50,328.51 158.20,334.12 164.80,334.12" fill="#fff" stroke="#000" stroke-width="1.4" stroke-linejoin="miter"/>
<line x1="134.7" y1="236.5" x2="187.5" y2="236.5" stroke="#000" stroke-width="2.2"/>
<line x1="148.6" y1="190.4" x2="175.4" y2="190.4" stroke="#000" stroke-width="2.2"/>
<line x1="148.6" y1="281.2" x2="175.4" y2="281.2" stroke="#000" stroke-width="2.2"/>
<line x1="161.9" y1="190.4" x2="161.9" y2="281.2" stroke="#000" stroke-width="2.2"/>
<polygon points="215.00,240.29 211.70,234.68 218.30,234.68" fill="#fff" stroke="#000" stroke-width="1.4" stroke-linejoin="miter"/>
<polygon points="215.00,251.09 211.70,245.48 218.30,245.48" fill="#fff" stroke="#000" stroke-width="1.4" stroke-linejoin="miter"/>
<polygon points="224.40,254.29 221.10,248.68 227.70,248.68" fill="#fff" stroke="#000" stroke-width="1.4" stroke-linejoin="miter"/>
<polygon points="215.00,262.39 211.70,256.78 218.30,256.78" fill="#fff" stroke="#000" stroke-width="1.4" stroke-linejoin="miter"/>
<polygon points="224.40,274.89 221.10,269.28 227.70,269.28" fill="#fff" stroke="#000" stroke-width="1.4" stroke-linejoin="miter"/>
<polygon points="205.30,281.59 202.00,275.98 208.60,275.98" fill="#fff" stroke="#000" stroke-width="1.4" stroke-linejoin="miter"/>
<polygon points="215.00,282.29 211.70,276.68 218.30,276.68" fill="#fff" stroke="#000" stroke-width="1.4" stroke-linejoin="miter"/>
<polygon points="195.90,286.99 192.60,281.38 199.20,281.38" fill="#fff" stroke="#000" stroke-width="1.4" stroke-linejoin="miter"/>
<polygon points="233.80,288.39 230.50,282.78 237.10,282.78" fill="#fff" stroke="#000" stroke-width="1.4" stroke-linejoin="miter"/>
<polygon points="205.30,291.69 202.00,286.08 208.60,286.08" fill="#fff" stroke="#000" stroke-width="1.4" stroke-linejoin="miter"/>
<polygon points="224.40,292.29 221.10,286.68 227.70,286.68" fill="#fff" stroke="#000" stroke-width="1.4" stroke-linejoin="miter"/>
<polygon points="215.00,295.89 211.70,290.28 218.30,290.28" fill="#fff" stroke="#000" stroke-width="1.4" stroke-linejoin="miter"/>
<polygon points="205.30,299.49 202.00,293.88 208.60,293.88" fill="#fff" stroke="#000" stroke-width="1.4" stroke-linejoin="miter"/>
<polygon points="224.40,299.49 221.10,293.88 227.70,293.88" fill="#fff" stroke="#000" stroke-width="1.4" stroke-linejoin="miter"/>
<polygon points="215.00,305.99 211.70,300.38 218.30,300.38" fill="#fff" stroke="#000" stroke-width="1.4" stroke-linejoin="miter"/>
<polygon points="215.00,322.09 211.70,316.48 218.30,316.48" fill="#fff" stroke="#000" stroke-width="1.4" stroke-linejoin="miter"/>
<polygon points="195.90,327.19 192.60,321.58 199.20,321.58" fill="#fff" stroke="#000" stroke-width="1.4" stroke-linejoin="miter"/>
<polygon points="224.40,328.19 221.10,322.58 227.70,322.58" fill="#fff" stroke="#000" stroke-width="1.4" stroke-linejoin="miter"/>
<polygon points="205.30,334.89 202.00,329.28 208.60,329.28" fill="#fff" stroke="#000" stroke-width="1.4" stroke-linejoin="miter"/>
<polygon points="215.00,334.89 211.70,329.28 218.30,329.28" fill="#fff" stroke="#000" stroke-width="1.4" stroke-linejoin="miter"/>
<polygon points="195.88,340.09 192.58,334.48 199.18,334.48" fill="#fff" stroke="#000" stroke-width="1.4" stroke-linejoin="miter"/>
<polygon points="200.19,340.09 196.89,334.48 203.49,334.48" fill="#fff" stroke="#000" stroke-width="1.4" stroke-linejoin="miter"/>
<polygon points="205.30,340.09 202.00,334.48 208.60,334.48" fill="#fff" stroke="#000" stroke-width="1.4" stroke-linejoin="miter"/>
<polygon points="210.28,340.09 206.98,334.48 213.58,334.48" fill="#fff" stroke="#000" stroke-width="1.4" stroke-linejoin="miter"/>
<polygon points="214.99,340.09 211.69,334.48 218.29,334.48" fill="#fff" stroke="#000" stroke-width="1.4" stroke-linejoin="miter"/>
<polygon points="219.70,340.09 216.40,334.48 223.00,334.48" fill="#fff" stroke="#000" stroke-width="1.4" stroke-linejoin="miter"/>
<polygon points="224.41,340.09 221.11,334.48 227.71,334.48" fill="#fff" stroke="#000" stroke-width="1.4" stroke-linejoin="miter"/>
<polygon points="229.13,340.09 225.83,334.48 232.43,334.48" fill="#fff" stroke="#000" stroke-width="1.4" stroke-linejoin="miter"/>
<polygon points="233.84,340.09 230.54,334.48 237.14,334.48" fill="#fff" stroke="#000" stroke-width="1.4" stroke-linejoin="miter"/>
<polygon points="205.30,345.09 202.00,339.48 208.60,339.48" fill="#fff" stroke="#000" stroke-width="1.4" stroke-linejoin="miter"/>
<polygon points="214.99,345.09 211.69,339.48 218.29,339.48" fill="#fff" stroke="#000" stroke-width="1.4" stroke-linejoin="miter"/>
<polygon points="224.41,345.09 221.11,339.48 227.71,339.48" fill="#fff" stroke="#000" stroke-width="1.4" stroke-linejoin="miter"/>
<line x1="187.8" y1="305.3" x2="241.2" y2="305.3" stroke="#000" stroke-width="2.2"/>
<line x1="201.3" y1="272.5" x2="228.2" y2="272.5" stroke="#000" stroke-width="2.2"/>
<line x1="215.0" y1="272.5" x2="215.0" y2="339.0" stroke="#000" stroke-width="2.2"/>
<circle cx="302.1" cy="334.6" r="3.0" fill="#fff" stroke="#000" stroke-width="1.2"/>
<circle cx="311.9" cy="331.2" r="3.0" fill="#fff" stroke="#000" stroke-width="1.2"/>
<circle cx="321.2" cy="336.9" r="3.0" fill="#fff" stroke="#000" stroke-width="1.2"/>
<circle cx="331.0" cy="335.8" r="3.0" fill="#fff" stroke="#000" stroke-width="1.2"/>
<circle cx="340.8" cy="331.7" r="3.0" fill="#fff" stroke="#000" stroke-width="1.2"/>
<circle cx="342.5" cy="339.8" r="3.0" fill="#fff" stroke="#000" stroke-width="1.2"/>
<circle cx="298.7" cy="340.0" r="3.0" fill="#fff" stroke="#000" stroke-width="1.2"/>
<circle cx="307.3" cy="340.0" r="3.0" fill="#fff" stroke="#000" stroke-width="1.2"/>
<circle cx="316.5" cy="340.0" r="3.0" fill="#fff" stroke="#000" stroke-width="1.2"/>
<circle cx="325.8" cy="340.0" r="3.0" fill="#fff" stroke="#000" stroke-width="1.2"/>
<circle cx="335.6" cy="340.0" r="3.0" fill="#fff" stroke="#000" stroke-width="1.2"/>
<circle cx="302.1" cy="344.3" r="3.0" fill="#fff" stroke="#000" stroke-width="1.2"/>
<circle cx="306.2" cy="344.3" r="3.0" fill="#fff" stroke="#000" stroke-width="1.2"/>
<circle cx="311.3" cy="344.3" r="3.0" fill="#fff" stroke="#000" stroke-width="1.2"/>
<circle cx="316.0" cy="344.3" r="3.0" fill="#fff" stroke="#000" stroke-width="1.2"/>
<circle cx="320.6" cy="344.3" r="3.0" fill="#fff" stroke="#000" stroke-width="1.2"/>
<circle cx="325.8" cy="344.3" r="3.0" fill="#fff" stroke="#000" stroke-width="1.2"/>
<circle cx="331.0" cy="344.3" r="3.0" fill="#fff" stroke="#000" stroke-width="1.2"/>
<circle cx="340.8" cy="344.3" r="3.0" fill="#fff" stroke="#000" stroke-width="1.2"/>
<line x1="294.0" y1="339.8" x2="347.1" y2="339.8" stroke="#000" stroke-width="2"/>
<line x1="360.5" y1="267.4" x2="387.8" y2="267.4" stroke="#000" stroke-width="2.2"/>
<line x1="374.7" y1="267.4" x2="374.7" y2="308.7" stroke="#000" stroke-width="2.2"/>
<circle cx="374.7" cy="163.9" r="3.1" fill="#737373" stroke="#000" stroke-width="1.35"/>
<circle cx="374.7" cy="226.6" r="3.1" fill="#737373" stroke="#000" stroke-width="1.35"/>
<circle cx="374.7" cy="249.9" r="3.1" fill="#737373" stroke="#000" stroke-width="1.35"/>
<circle cx="355.5" cy="299.9" r="3.1" fill="#737373" stroke="#000" stroke-width="1.35"/>
<circle cx="364.9" cy="298.8" r="3.1" fill="#737373" stroke="#000" stroke-width="1.35"/>
<circle cx="374.7" cy="297.5" r="3.1" fill="#737373" stroke="#000" stroke-width="1.35"/>
<circle cx="393.8" cy="298.8" r="3.1" fill="#737373" stroke="#000" stroke-width="1.35"/>
<circle cx="384.4" cy="304.2" r="3.1" fill="#737373" stroke="#000" stroke-width="1.35"/>
<circle cx="364.9" cy="308.3" r="3.1" fill="#737373" stroke="#000" stroke-width="1.35"/>
<circle cx="374.7" cy="308.3" r="3.1" fill="#737373" stroke="#000" stroke-width="1.35"/>
<circle cx="364.9" cy="317.7" r="3.1" fill="#737373" stroke="#000" stroke-width="1.35"/>
<circle cx="393.8" cy="315.7" r="3.1" fill="#737373" stroke="#000" stroke-width="1.35"/>
<circle cx="374.7" cy="324.4" r="3.1" fill="#737373" stroke="#000" stroke-width="1.35"/>
<circle cx="384.4" cy="324.4" r="3.1" fill="#737373" stroke="#000" stroke-width="1.35"/>
<circle cx="364.9" cy="328.2" r="3.1" fill="#737373" stroke="#000" stroke-width="1.35"/>
<circle cx="393.8" cy="328.2" r="3.1" fill="#737373" stroke="#000" stroke-width="1.35"/>
<circle cx="355.5" cy="334.5" r="3.1" fill="#737373" stroke="#000" stroke-width="1.35"/>
<circle cx="355.5" cy="337.9" r="3.1" fill="#737373" stroke="#000" stroke-width="1.35"/>
<circle cx="364.9" cy="335.2" r="3.1" fill="#737373" stroke="#000" stroke-width="1.35"/>
<circle cx="364.9" cy="339.9" r="3.1" fill="#737373" stroke="#000" stroke-width="1.35"/>
<circle cx="374.7" cy="335.9" r="3.1" fill="#737373" stroke="#000" stroke-width="1.35"/>
<circle cx="384.4" cy="334.5" r="3.1" fill="#737373" stroke="#000" stroke-width="1.35"/>
<circle cx="384.4" cy="343.0" r="3.1" fill="#737373" stroke="#000" stroke-width="1.35"/>
<circle cx="393.8" cy="339.0" r="3.1" fill="#737373" stroke="#000" stroke-width="1.35"/>
<circle cx="374.7" cy="345.7" r="3.1" fill="#737373" stroke="#000" stroke-width="1.35"/>
<line x1="347.4" y1="308.7" x2="400.3" y2="308.7" stroke="#000" stroke-width="2.2"/>
<line x1="427.2" y1="172.4" x2="427.2" y2="221.6" stroke="#000" stroke-width="2.2"/>
<polygon points="417.80,160.51 414.50,166.12 421.10,166.12" fill="#fff" stroke="#000" stroke-width="1.4" stroke-linejoin="miter"/>
<polygon points="427.20,161.81 423.90,167.42 430.50,167.42" fill="#fff" stroke="#000" stroke-width="1.4" stroke-linejoin="miter"/>
<polygon points="437.00,167.31 433.70,172.92 440.30,172.92" fill="#fff" stroke="#000" stroke-width="1.4" stroke-linejoin="miter"/>
<polygon points="427.20,175.41 423.90,181.02 430.50,181.02" fill="#fff" stroke="#000" stroke-width="1.4" stroke-linejoin="miter"/>
<polygon points="408.10,182.21 404.80,187.82 411.40,187.82" fill="#fff" stroke="#000" stroke-width="1.4" stroke-linejoin="miter"/>
<polygon points="417.80,183.91 414.50,189.52 421.10,189.52" fill="#fff" stroke="#000" stroke-width="1.4" stroke-linejoin="miter"/>
<polygon points="437.00,182.21 433.70,187.82 440.30,187.82" fill="#fff" stroke="#000" stroke-width="1.4" stroke-linejoin="miter"/>
<polygon points="427.20,186.81 423.90,192.42 430.50,192.42" fill="#fff" stroke="#000" stroke-width="1.4" stroke-linejoin="miter"/>
<polygon points="417.80,201.51 414.50,207.12 421.10,207.12" fill="#fff" stroke="#000" stroke-width="1.4" stroke-linejoin="miter"/>
<polygon points="437.00,205.91 433.70,211.52 440.30,211.52" fill="#fff" stroke="#000" stroke-width="1.4" stroke-linejoin="miter"/>
<polygon points="427.20,208.81 423.90,214.42 430.50,214.42" fill="#fff" stroke="#000" stroke-width="1.4" stroke-linejoin="miter"/>
<polygon points="437.00,213.91 433.70,219.52 440.30,219.52" fill="#fff" stroke="#000" stroke-width="1.4" stroke-linejoin="miter"/>
<polygon points="417.80,222.41 414.50,228.02 421.10,228.02" fill="#fff" stroke="#000" stroke-width="1.4" stroke-linejoin="miter"/>
<polygon points="427.20,222.41 423.90,228.02 430.50,228.02" fill="#fff" stroke="#000" stroke-width="1.4" stroke-linejoin="miter"/>
<polygon points="428.00,241.11 424.70,246.72 431.30,246.72" fill="#fff" stroke="#000" stroke-width="1.4" stroke-linejoin="miter"/>
<line x1="400.0" y1="197.3" x2="453.5" y2="197.3" stroke="#000" stroke-width="2.2"/>
<line x1="413.9" y1="172.4" x2="440.7" y2="172.4" stroke="#000" stroke-width="2.2"/>
<line x1="413.9" y1="221.6" x2="440.7" y2="221.6" stroke="#000" stroke-width="2.2"/>
<line x1="480.5" y1="197.2" x2="480.5" y2="302.6" stroke="#000" stroke-width="2.2"/>
<polygon points="480.50,152.89 477.20,147.28 483.80,147.28" fill="#fff" stroke="#000" stroke-width="1.4" stroke-linejoin="miter"/>
<polygon points="480.50,198.69 477.20,193.08 483.80,193.08" fill="#fff" stroke="#000" stroke-width="1.4" stroke-linejoin="miter"/>
<polygon points="470.70,218.39 467.40,212.78 474.00,212.78" fill="#fff" stroke="#000" stroke-width="1.4" stroke-linejoin="miter"/>
<polygon points="480.50,224.29 477.20,218.68 483.80,218.68" fill="#fff" stroke="#000" stroke-width="1.4" stroke-linejoin="miter"/>
<polygon points="480.50,253.29 477.20,247.68 483.80,247.68" fill="#fff" stroke="#000" stroke-width="1.4" stroke-linejoin="miter"/>
<polygon points="480.50,276.19 477.20,270.58 483.80,270.58" fill="#fff" stroke="#000" stroke-width="1.4" stroke-linejoin="miter"/>
<polygon points="470.70,299.79 467.40,294.18 474.00,294.18" fill="#fff" stroke="#000" stroke-width="1.4" stroke-linejoin="miter"/>
<polygon points="490.00,300.59 486.70,294.98 493.30,294.98" fill="#fff" stroke="#000" stroke-width="1.4" stroke-linejoin="miter"/>
<polygon points="499.70,299.09 496.40,293.48 503.00,293.48" fill="#fff" stroke="#000" stroke-width="1.4" stroke-linejoin="miter"/>
<polygon points="480.50,307.79 477.20,302.18 483.80,302.18" fill="#fff" stroke="#000" stroke-width="1.4" stroke-linejoin="miter"/>
<line x1="453.3" y1="250.8" x2="506.7" y2="250.8" stroke="#000" stroke-width="2.2"/>
<line x1="467.0" y1="197.2" x2="493.6" y2="197.2" stroke="#000" stroke-width="2.2"/>
<line x1="467.0" y1="302.6" x2="493.6" y2="302.6" stroke="#000" stroke-width="2.2"/>
<line x1="86.5" y1="502.8" x2="86.5" y2="778.5" stroke="#000" stroke-width="1.6"/>
<line x1="85.7" y1="502.8" x2="511.1" y2="502.8" stroke="#000" stroke-width="1.6"/>
<line x1="511.1" y1="502.0" x2="511.1" y2="768.0" stroke="#000" stroke-width="1.6"/>
<line x1="86.5" y1="768.0" x2="468.8" y2="768.0" stroke="#000" stroke-width="1.6"/>
<line x1="484.6" y1="768.0" x2="511.9" y2="768.0" stroke="#000" stroke-width="1.6"/>
<line x1="77.5" y1="763.0" x2="86.5" y2="763.0" stroke="#000" stroke-width="1.7"/>
<text x="76.0" y="767.5" font-size="13.6" font-weight="bold" text-anchor="end" >0</text>
<line x1="81.7" y1="756.6175" x2="86.5" y2="756.6175" stroke="#000" stroke-width="1.6"/>
<line x1="81.7" y1="750.235" x2="86.5" y2="750.235" stroke="#000" stroke-width="1.6"/>
<line x1="81.7" y1="743.8525" x2="86.5" y2="743.8525" stroke="#000" stroke-width="1.6"/>
<line x1="77.5" y1="737.47" x2="86.5" y2="737.47" stroke="#000" stroke-width="1.7"/>
<text x="76.0" y="741.97" font-size="13.6" font-weight="bold" text-anchor="end" >10</text>
<line x1="81.7" y1="731.0875" x2="86.5" y2="731.0875" stroke="#000" stroke-width="1.6"/>
<line x1="81.7" y1="724.705" x2="86.5" y2="724.705" stroke="#000" stroke-width="1.6"/>
<line x1="81.7" y1="718.3225" x2="86.5" y2="718.3225" stroke="#000" stroke-width="1.6"/>
<line x1="77.5" y1="711.94" x2="86.5" y2="711.94" stroke="#000" stroke-width="1.7"/>
<text x="76.0" y="716.44" font-size="13.6" font-weight="bold" text-anchor="end" >20</text>
<line x1="81.7" y1="705.5575" x2="86.5" y2="705.5575" stroke="#000" stroke-width="1.6"/>
<line x1="81.7" y1="699.175" x2="86.5" y2="699.175" stroke="#000" stroke-width="1.6"/>
<line x1="81.7" y1="692.7925" x2="86.5" y2="692.7925" stroke="#000" stroke-width="1.6"/>
<line x1="77.5" y1="686.41" x2="86.5" y2="686.41" stroke="#000" stroke-width="1.7"/>
<text x="76.0" y="690.91" font-size="13.6" font-weight="bold" text-anchor="end" >30</text>
<line x1="81.7" y1="680.0275" x2="86.5" y2="680.0275" stroke="#000" stroke-width="1.6"/>
<line x1="81.7" y1="673.645" x2="86.5" y2="673.645" stroke="#000" stroke-width="1.6"/>
<line x1="81.7" y1="667.2625" x2="86.5" y2="667.2625" stroke="#000" stroke-width="1.6"/>
<line x1="77.5" y1="660.88" x2="86.5" y2="660.88" stroke="#000" stroke-width="1.7"/>
<text x="76.0" y="665.38" font-size="13.6" font-weight="bold" text-anchor="end" >40</text>
<line x1="81.7" y1="654.4975" x2="86.5" y2="654.4975" stroke="#000" stroke-width="1.6"/>
<line x1="81.7" y1="648.115" x2="86.5" y2="648.115" stroke="#000" stroke-width="1.6"/>
<line x1="81.7" y1="641.7325" x2="86.5" y2="641.7325" stroke="#000" stroke-width="1.6"/>
<line x1="77.5" y1="635.35" x2="86.5" y2="635.35" stroke="#000" stroke-width="1.7"/>
<text x="76.0" y="639.85" font-size="13.6" font-weight="bold" text-anchor="end" >50</text>
<line x1="81.7" y1="628.9675" x2="86.5" y2="628.9675" stroke="#000" stroke-width="1.6"/>
<line x1="81.7" y1="622.585" x2="86.5" y2="622.585" stroke="#000" stroke-width="1.6"/>
<line x1="81.7" y1="616.2025" x2="86.5" y2="616.2025" stroke="#000" stroke-width="1.6"/>
<line x1="77.5" y1="609.8199999999999" x2="86.5" y2="609.8199999999999" stroke="#000" stroke-width="1.7"/>
<text x="76.0" y="614.3199999999999" font-size="13.6" font-weight="bold" text-anchor="end" >60</text>
<line x1="81.7" y1="603.4375" x2="86.5" y2="603.4375" stroke="#000" stroke-width="1.6"/>
<line x1="81.7" y1="597.0550000000001" x2="86.5" y2="597.0550000000001" stroke="#000" stroke-width="1.6"/>
<line x1="81.7" y1="590.6725" x2="86.5" y2="590.6725" stroke="#000" stroke-width="1.6"/>
<line x1="77.5" y1="584.29" x2="86.5" y2="584.29" stroke="#000" stroke-width="1.7"/>
<text x="76.0" y="588.79" font-size="13.6" font-weight="bold" text-anchor="end" >70</text>
<line x1="81.7" y1="577.9075" x2="86.5" y2="577.9075" stroke="#000" stroke-width="1.6"/>
<line x1="81.7" y1="571.525" x2="86.5" y2="571.525" stroke="#000" stroke-width="1.6"/>
<line x1="81.7" y1="565.1425" x2="86.5" y2="565.1425" stroke="#000" stroke-width="1.6"/>
<line x1="77.5" y1="558.76" x2="86.5" y2="558.76" stroke="#000" stroke-width="1.7"/>
<text x="76.0" y="563.26" font-size="13.6" font-weight="bold" text-anchor="end" >80</text>
<line x1="81.7" y1="552.3775" x2="86.5" y2="552.3775" stroke="#000" stroke-width="1.6"/>
<line x1="81.7" y1="545.995" x2="86.5" y2="545.995" stroke="#000" stroke-width="1.6"/>
<line x1="81.7" y1="539.6125" x2="86.5" y2="539.6125" stroke="#000" stroke-width="1.6"/>
<line x1="77.5" y1="533.23" x2="86.5" y2="533.23" stroke="#000" stroke-width="1.7"/>
<text x="76.0" y="537.73" font-size="13.6" font-weight="bold" text-anchor="end" >90</text>
<line x1="81.7" y1="526.8475" x2="86.5" y2="526.8475" stroke="#000" stroke-width="1.6"/>
<line x1="81.7" y1="520.465" x2="86.5" y2="520.465" stroke="#000" stroke-width="1.6"/>
<line x1="81.7" y1="514.0825" x2="86.5" y2="514.0825" stroke="#000" stroke-width="1.6"/>
<line x1="77.5" y1="507.70000000000005" x2="86.5" y2="507.70000000000005" stroke="#000" stroke-width="1.7"/>
<text x="76.0" y="512.2" font-size="13.6" font-weight="bold" text-anchor="end" >100</text>
<line x1="86.3" y1="768" x2="86.3" y2="778.5" stroke="#000" stroke-width="1.7"/>
<text x="86.3" y="792.7" font-size="13.6" font-weight="bold" text-anchor="middle" >0</text>
<line x1="93.955" y1="768" x2="93.955" y2="773.8" stroke="#000" stroke-width="1.6"/>
<line x1="101.61" y1="768" x2="101.61" y2="773.8" stroke="#000" stroke-width="1.6"/>
<line x1="109.265" y1="768" x2="109.265" y2="773.8" stroke="#000" stroke-width="1.6"/>
<line x1="116.91999999999999" y1="768" x2="116.91999999999999" y2="773.8" stroke="#000" stroke-width="1.6"/>
<line x1="124.57499999999999" y1="768" x2="124.57499999999999" y2="778.5" stroke="#000" stroke-width="1.7"/>
<text x="124.57499999999999" y="792.7" font-size="13.6" font-weight="bold" text-anchor="middle" >50</text>
<line x1="132.23" y1="768" x2="132.23" y2="773.8" stroke="#000" stroke-width="1.6"/>
<line x1="139.885" y1="768" x2="139.885" y2="773.8" stroke="#000" stroke-width="1.6"/>
<line x1="147.54" y1="768" x2="147.54" y2="773.8" stroke="#000" stroke-width="1.6"/>
<line x1="155.195" y1="768" x2="155.195" y2="773.8" stroke="#000" stroke-width="1.6"/>
<line x1="162.85" y1="768" x2="162.85" y2="778.5" stroke="#000" stroke-width="1.7"/>
<text x="162.85" y="792.7" font-size="13.6" font-weight="bold" text-anchor="middle" >100</text>
<line x1="170.505" y1="768" x2="170.505" y2="773.8" stroke="#000" stroke-width="1.6"/>
<line x1="178.16" y1="768" x2="178.16" y2="773.8" stroke="#000" stroke-width="1.6"/>
<line x1="185.815" y1="768" x2="185.815" y2="773.8" stroke="#000" stroke-width="1.6"/>
<line x1="193.46999999999997" y1="768" x2="193.46999999999997" y2="773.8" stroke="#000" stroke-width="1.6"/>
<line x1="201.125" y1="768" x2="201.125" y2="778.5" stroke="#000" stroke-width="1.7"/>
<text x="201.125" y="792.7" font-size="13.6" font-weight="bold" text-anchor="middle" >150</text>
<line x1="208.77999999999997" y1="768" x2="208.77999999999997" y2="773.8" stroke="#000" stroke-width="1.6"/>
<line x1="216.435" y1="768" x2="216.435" y2="773.8" stroke="#000" stroke-width="1.6"/>
<line x1="224.08999999999997" y1="768" x2="224.08999999999997" y2="773.8" stroke="#000" stroke-width="1.6"/>
<line x1="231.745" y1="768" x2="231.745" y2="773.8" stroke="#000" stroke-width="1.6"/>
<line x1="239.39999999999998" y1="768" x2="239.39999999999998" y2="778.5" stroke="#000" stroke-width="1.7"/>
<text x="239.39999999999998" y="792.7" font-size="13.6" font-weight="bold" text-anchor="middle" >200</text>
<line x1="247.055" y1="768" x2="247.055" y2="773.8" stroke="#000" stroke-width="1.6"/>
<line x1="254.70999999999998" y1="768" x2="254.70999999999998" y2="773.8" stroke="#000" stroke-width="1.6"/>
<line x1="262.365" y1="768" x2="262.365" y2="773.8" stroke="#000" stroke-width="1.6"/>
<line x1="270.02" y1="768" x2="270.02" y2="773.8" stroke="#000" stroke-width="1.6"/>
<line x1="277.675" y1="768" x2="277.675" y2="778.5" stroke="#000" stroke-width="1.7"/>
<text x="277.675" y="792.7" font-size="13.6" font-weight="bold" text-anchor="middle" >250</text>
<line x1="285.33" y1="768" x2="285.33" y2="773.8" stroke="#000" stroke-width="1.6"/>
<line x1="292.985" y1="768" x2="292.985" y2="773.8" stroke="#000" stroke-width="1.6"/>
<line x1="300.64" y1="768" x2="300.64" y2="773.8" stroke="#000" stroke-width="1.6"/>
<line x1="308.29499999999996" y1="768" x2="308.29499999999996" y2="773.8" stroke="#000" stroke-width="1.6"/>
<line x1="315.95" y1="768" x2="315.95" y2="778.5" stroke="#000" stroke-width="1.7"/>
<text x="315.95" y="792.7" font-size="13.6" font-weight="bold" text-anchor="middle" >300</text>
<line x1="323.60499999999996" y1="768" x2="323.60499999999996" y2="773.8" stroke="#000" stroke-width="1.6"/>
<line x1="331.26" y1="768" x2="331.26" y2="773.8" stroke="#000" stroke-width="1.6"/>
<line x1="338.91499999999996" y1="768" x2="338.91499999999996" y2="773.8" stroke="#000" stroke-width="1.6"/>
<line x1="346.57" y1="768" x2="346.57" y2="773.8" stroke="#000" stroke-width="1.6"/>
<line x1="354.225" y1="768" x2="354.225" y2="778.5" stroke="#000" stroke-width="1.7"/>
<text x="354.225" y="792.7" font-size="13.6" font-weight="bold" text-anchor="middle" >350</text>
<line x1="361.88" y1="768" x2="361.88" y2="773.8" stroke="#000" stroke-width="1.6"/>
<line x1="369.53499999999997" y1="768" x2="369.53499999999997" y2="773.8" stroke="#000" stroke-width="1.6"/>
<line x1="377.19" y1="768" x2="377.19" y2="773.8" stroke="#000" stroke-width="1.6"/>
<line x1="384.84499999999997" y1="768" x2="384.84499999999997" y2="773.8" stroke="#000" stroke-width="1.6"/>
<line x1="392.5" y1="768" x2="392.5" y2="778.5" stroke="#000" stroke-width="1.7"/>
<text x="392.5" y="792.7" font-size="13.6" font-weight="bold" text-anchor="middle" >400</text>
<line x1="400.155" y1="768" x2="400.155" y2="773.8" stroke="#000" stroke-width="1.6"/>
<line x1="407.81" y1="768" x2="407.81" y2="773.8" stroke="#000" stroke-width="1.6"/>
<line x1="415.465" y1="768" x2="415.465" y2="773.8" stroke="#000" stroke-width="1.6"/>
<line x1="423.12" y1="768" x2="423.12" y2="773.8" stroke="#000" stroke-width="1.6"/>
<line x1="430.775" y1="768" x2="430.775" y2="778.5" stroke="#000" stroke-width="1.7"/>
<text x="430.775" y="792.7" font-size="13.6" font-weight="bold" text-anchor="middle" >450</text>
<line x1="438.43" y1="768" x2="438.43" y2="773.8" stroke="#000" stroke-width="1.6"/>
<line x1="446.085" y1="768" x2="446.085" y2="773.8" stroke="#000" stroke-width="1.6"/>
<line x1="453.74" y1="768" x2="453.74" y2="773.8" stroke="#000" stroke-width="1.6"/>
<line x1="461.395" y1="768" x2="461.395" y2="773.8" stroke="#000" stroke-width="1.6"/>
<line x1="469.05" y1="768" x2="469.05" y2="778.5" stroke="#000" stroke-width="1.7"/>
<text x="469.05" y="792.7" font-size="13.6" font-weight="bold" text-anchor="middle" >500</text>
<line x1="468.8" y1="764.6" x2="468.8" y2="778.5" stroke="#000" stroke-width="1.5"/>
<line x1="484.6" y1="764.6" x2="484.6" y2="772.3" stroke="#000" stroke-width="1.5"/>
<line x1="501.5" y1="768" x2="501.5" y2="778.5" stroke="#000" stroke-width="1.5"/>
<text x="501.5" y="791.5" font-size="13.6" font-weight="bold" text-anchor="middle" >750</text>
<text transform="translate(295.6 815.8) scale(1.1 1)" font-size="16" font-weight="bold" text-anchor="middle">Plt count (number x 10<tspan font-size="11" dy="-4.4">9</tspan><tspan dy="4.4">/L)</tspan></text>
<text x="0" y="0" font-size="16" font-weight="bold" text-anchor="middle" transform="translate(21.9 633.8) rotate(-90)">Myeloid</text>
<text x="0" y="0" font-size="15.8" font-weight="bold" text-anchor="middle" transform="translate(40.5 633.9) rotate(-90)">donor chimerism (%)</text>
<circle cx="239.2" cy="511.5" r="4.0" fill="#d9d9d9" stroke="#111" stroke-width="1.35"/>
<circle cx="284.7" cy="512.0" r="4.0" fill="#d9d9d9" stroke="#111" stroke-width="1.35"/>
<circle cx="332.9" cy="512.0" r="4.0" fill="#d9d9d9" stroke="#111" stroke-width="1.35"/>
<circle cx="284.2" cy="511.0" r="4.0" fill="#d9d9d9" stroke="#111" stroke-width="1.35"/>
<circle cx="118.7" cy="513.8" r="4.0" fill="#d9d9d9" stroke="#111" stroke-width="1.35"/>
<circle cx="130.3" cy="508.5" r="4.0" fill="#d9d9d9" stroke="#111" stroke-width="1.35"/>
<circle cx="175.8" cy="508.5" r="4.0" fill="#d9d9d9" stroke="#111" stroke-width="1.35"/>
<circle cx="194.3" cy="508.5" r="4.0" fill="#d9d9d9" stroke="#111" stroke-width="1.35"/>
<circle cx="196.9" cy="508.5" r="4.0" fill="#d9d9d9" stroke="#111" stroke-width="1.35"/>
<circle cx="205.4" cy="508.5" r="4.0" fill="#d9d9d9" stroke="#111" stroke-width="1.35"/>
<circle cx="214.9" cy="508.5" r="4.0" fill="#d9d9d9" stroke="#111" stroke-width="1.35"/>
<circle cx="220.7" cy="508.5" r="4.0" fill="#d9d9d9" stroke="#111" stroke-width="1.35"/>
<circle cx="223.1" cy="508.5" r="4.0" fill="#d9d9d9" stroke="#111" stroke-width="1.35"/>
<circle cx="225.1" cy="508.5" r="4.0" fill="#d9d9d9" stroke="#111" stroke-width="1.35"/>
<circle cx="221.3" cy="508.5" r="4.0" fill="#d9d9d9" stroke="#111" stroke-width="1.35"/>
<circle cx="227.6" cy="508.5" r="4.0" fill="#d9d9d9" stroke="#111" stroke-width="1.35"/>
<circle cx="235.0" cy="508.5" r="4.0" fill="#d9d9d9" stroke="#111" stroke-width="1.35"/>
<circle cx="240.3" cy="508.5" r="4.0" fill="#d9d9d9" stroke="#111" stroke-width="1.35"/>
<circle cx="251.9" cy="508.5" r="4.0" fill="#d9d9d9" stroke="#111" stroke-width="1.35"/>
<circle cx="259.3" cy="508.5" r="4.0" fill="#d9d9d9" stroke="#111" stroke-width="1.35"/>
<circle cx="266.7" cy="508.5" r="4.0" fill="#d9d9d9" stroke="#111" stroke-width="1.35"/>
<circle cx="275.2" cy="508.5" r="4.0" fill="#d9d9d9" stroke="#111" stroke-width="1.35"/>
<circle cx="283.7" cy="508.5" r="4.0" fill="#d9d9d9" stroke="#111" stroke-width="1.35"/>
<circle cx="285.8" cy="508.5" r="4.0" fill="#d9d9d9" stroke="#111" stroke-width="1.35"/>
<circle cx="283.2" cy="508.5" r="4.0" fill="#d9d9d9" stroke="#111" stroke-width="1.35"/>
<circle cx="292.7" cy="508.5" r="4.0" fill="#d9d9d9" stroke="#111" stroke-width="1.35"/>
<circle cx="301.2" cy="508.5" r="4.0" fill="#d9d9d9" stroke="#111" stroke-width="1.35"/>
<circle cx="308.6" cy="508.5" r="4.0" fill="#d9d9d9" stroke="#111" stroke-width="1.35"/>
<circle cx="316.0" cy="508.5" r="4.0" fill="#d9d9d9" stroke="#111" stroke-width="1.35"/>
<circle cx="324.4" cy="508.5" r="4.0" fill="#d9d9d9" stroke="#111" stroke-width="1.35"/>
<circle cx="331.8" cy="508.5" r="4.0" fill="#d9d9d9" stroke="#111" stroke-width="1.35"/>
<circle cx="339.2" cy="508.5" r="4.0" fill="#d9d9d9" stroke="#111" stroke-width="1.35"/>
<circle cx="349.8" cy="508.5" r="4.0" fill="#d9d9d9" stroke="#111" stroke-width="1.35"/>
<circle cx="361.4" cy="508.5" r="4.0" fill="#d9d9d9" stroke="#111" stroke-width="1.35"/>
<circle cx="363.6" cy="508.5" r="4.0" fill="#d9d9d9" stroke="#111" stroke-width="1.35"/>
<circle cx="381.5" cy="508.5" r="4.0" fill="#d9d9d9" stroke="#111" stroke-width="1.35"/>
<circle cx="385.8" cy="508.5" r="4.0" fill="#d9d9d9" stroke="#111" stroke-width="1.35"/>
<circle cx="384.0" cy="508.5" r="4.0" fill="#d9d9d9" stroke="#111" stroke-width="1.35"/>
<circle cx="386.7" cy="508.5" r="4.0" fill="#d9d9d9" stroke="#111" stroke-width="1.35"/>
<circle cx="392.1" cy="508.5" r="4.0" fill="#d9d9d9" stroke="#111" stroke-width="1.35"/>
<circle cx="396.2" cy="508.5" r="4.0" fill="#d9d9d9" stroke="#111" stroke-width="1.35"/>
<circle cx="398.8" cy="508.5" r="4.0" fill="#d9d9d9" stroke="#111" stroke-width="1.35"/>
<circle cx="406.9" cy="508.5" r="4.0" fill="#d9d9d9" stroke="#111" stroke-width="1.35"/>
<circle cx="436.5" cy="508.5" r="4.0" fill="#d9d9d9" stroke="#111" stroke-width="1.35"/>
<circle cx="442.5" cy="508.5" r="4.0" fill="#d9d9d9" stroke="#111" stroke-width="1.35"/>
<circle cx="486.4" cy="508.5" r="4.0" fill="#d9d9d9" stroke="#111" stroke-width="1.35"/>
<circle cx="490.4" cy="508.5" r="4.0" fill="#d9d9d9" stroke="#111" stroke-width="1.35"/>
<circle cx="507.9" cy="508.5" r="4.0" fill="#d9d9d9" stroke="#111" stroke-width="1.35"/>
<circle cx="295.9" cy="510.2" r="4.0" fill="#d9d9d9" stroke="#111" stroke-width="1.35"/>
<circle cx="248.8" cy="520.8" r="4.0" fill="#d9d9d9" stroke="#111" stroke-width="1.35"/>
<circle cx="298.0" cy="520.8" r="4.0" fill="#d9d9d9" stroke="#111" stroke-width="1.35"/>
<circle cx="319.1" cy="520.8" r="4.0" fill="#d9d9d9" stroke="#111" stroke-width="1.35"/>
<circle cx="396.7" cy="521.1" r="4.0" fill="#d9d9d9" stroke="#111" stroke-width="1.35"/>
<circle cx="182.6" cy="546.4" r="4.0" fill="#d9d9d9" stroke="#111" stroke-width="1.35"/>
<circle cx="188.9" cy="546.4" r="4.0" fill="#d9d9d9" stroke="#111" stroke-width="1.35"/>
<circle cx="205.7" cy="545.0" r="4.0" fill="#d9d9d9" stroke="#111" stroke-width="1.35"/>
<circle cx="252.4" cy="546.4" r="4.0" fill="#d9d9d9" stroke="#111" stroke-width="1.35"/>
<circle cx="235.1" cy="558.8" r="4.0" fill="#d9d9d9" stroke="#111" stroke-width="1.35"/>
<circle cx="273.5" cy="584.2" r="4.0" fill="#d9d9d9" stroke="#111" stroke-width="1.35"/>
<circle cx="293.6" cy="580.5" r="4.0" fill="#d9d9d9" stroke="#111" stroke-width="1.35"/>
<circle cx="267.7" cy="596.9" r="4.0" fill="#d9d9d9" stroke="#111" stroke-width="1.35"/>
<circle cx="116.0" cy="648.6" r="4.0" fill="#d9d9d9" stroke="#111" stroke-width="1.35"/>
<circle cx="140.1" cy="648.6" r="4.0" fill="#d9d9d9" stroke="#111" stroke-width="1.35"/>
<circle cx="130.8" cy="671.9" r="4.0" fill="#d9d9d9" stroke="#111" stroke-width="1.35"/>
<circle cx="182.4" cy="651.6" r="4.0" fill="#d9d9d9" stroke="#111" stroke-width="1.35"/>
<circle cx="193.4" cy="622.8" r="4.0" fill="#d9d9d9" stroke="#111" stroke-width="1.35"/>
<circle cx="202.7" cy="636.0" r="4.0" fill="#d9d9d9" stroke="#111" stroke-width="1.35"/>
<circle cx="212.0" cy="643.1" r="4.0" fill="#d9d9d9" stroke="#111" stroke-width="1.35"/>
<circle cx="216.2" cy="659.2" r="4.0" fill="#d9d9d9" stroke="#111" stroke-width="1.35"/>
<circle cx="228.0" cy="686.7" r="4.0" fill="#d9d9d9" stroke="#111" stroke-width="1.35"/>
<circle cx="128.5" cy="712.1" r="4.0" fill="#d9d9d9" stroke="#111" stroke-width="1.35"/>
<circle cx="167.6" cy="724.8" r="4.0" fill="#d9d9d9" stroke="#111" stroke-width="1.35"/>
<circle cx="114.3" cy="724.6" r="4.0" fill="#d9d9d9" stroke="#111" stroke-width="1.35"/>
<circle cx="104.5" cy="724.8" r="4.0" fill="#d9d9d9" stroke="#111" stroke-width="1.35"/>
<circle cx="106.8" cy="722.5" r="4.0" fill="#d9d9d9" stroke="#111" stroke-width="1.35"/>
<circle cx="94.3" cy="730.2" r="4.0" fill="#d9d9d9" stroke="#111" stroke-width="1.35"/>
<circle cx="99.3" cy="761.2" r="4.0" fill="#d9d9d9" stroke="#111" stroke-width="1.35"/>
<circle cx="101.0" cy="761.2" r="4.0" fill="#d9d9d9" stroke="#111" stroke-width="1.35"/>
<circle cx="105.0" cy="763.5" r="4.0" fill="#d9d9d9" stroke="#111" stroke-width="1.35"/>
<circle cx="109.1" cy="760.6" r="4.0" fill="#d9d9d9" stroke="#111" stroke-width="1.35"/>
<circle cx="107.3" cy="760.6" r="4.0" fill="#d9d9d9" stroke="#111" stroke-width="1.35"/>
<circle cx="196.3" cy="762.9" r="4.0" fill="#d9d9d9" stroke="#111" stroke-width="1.35"/>
</svg></body></html>
